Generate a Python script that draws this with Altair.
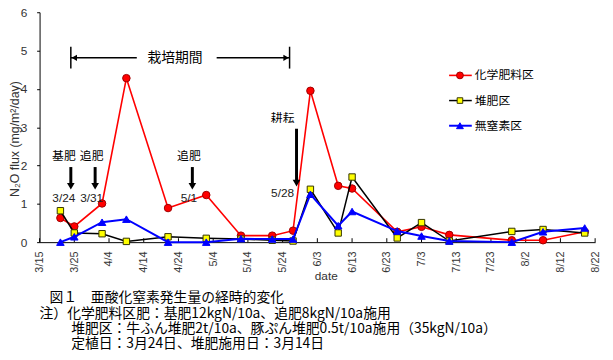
import altair as alt
import pandas as pd

# ---------------- data ----------------
dates = ["3/21", "3/25", "4/2", "4/9", "4/21", "5/2", "5/12", "5/21", "5/27",
         "6/1", "6/9", "6/13", "6/26", "7/3", "7/11", "7/29", "8/7", "8/19"]
chem = [0.63, 0.41, 1.01, 4.28, 0.89, 1.23, 0.17, 0.17, 0.30,
        3.95, 1.47, 1.40, 0.27, 0.40, 0.19, 0.05, 0.05, 0.27]
compost = [0.82, 0.24, 0.22, 0.02, 0.14, 0.10, 0.08, 0.05, 0.03,
           1.38, 0.24, 1.70, 0.11, 0.51, 0.03, 0.28, 0.33, 0.24]
nofert = [0.00, 0.14, 0.52, 0.60, 0.00, 0.00, 0.09, 0.08, 0.08,
          1.25, 0.43, 0.80, 0.29, 0.16, 0.03, 0.00, 0.27, 0.37]
series_names = ["化学肥料区", "堆肥区", "無窒素区"]

tick_labels = ["3/15", "3/25", "4/4", "4/14", "4/24", "5/4", "5/14", "5/24", "6/3",
               "6/13", "6/23", "7/3", "7/13", "7/23", "8/2", "8/12", "8/22"]
y_ticks = [0, 1, 2, 3, 4, 5, 6]

# annotations
arrow_dates = ["3/24", "3/31", "4/28", "5/28"]
arrow_top = [1.96, 1.96, 1.96, 2.96]
arrow_head = [1.46, 1.46, 1.46, 1.54]
word_text = ["基肥", "追肥", "追肥", "耕耘"]
word_dates = ["3/22", "3/30", "4/27", "5/24"]
word_y = [2.26, 2.26, 2.26, 3.24]
date_text = ["3/24", "3/31", "5/1", "5/28"]
date_y = [1.15, 1.15, 1.15, 1.28]

period_text = "栽培期間"
period_bounds = ["3/24", "5/26"]
period_heads = ["3/25", "5/25"]
period_gap = ["4/12", "5/5"]
period_text_date = "4/23"
period_y = 4.81
period_bar = [4.53, 5.10]

caption = [
    "図１　亜酸化窒素発生量の経時的変化",
    "注）化学肥料区肥：基肥12kgN/10a、追肥8kgN/10a施用",
    "堆肥区：牛ふん堆肥2t/10a、豚ぷん堆肥0.5t/10a施用（35kgN/10a）",
    "定植日：3月24日、堆肥施用日：3月14日",
]


def day(s):
    m, d = s.split("/")
    return (pd.Timestamp(2000, int(m), int(d)) - pd.Timestamp(2000, 3, 15)).days


days = [day(s) for s in dates]
tick_days = [day(s) for s in tick_labels]

W, H = 563, 233
JP = "Noto Sans CJK JP"
LAT = "Liberation Sans"

label_expr = "[" + ",".join(f"'{t}'" for t in tick_labels) + "][round(datum.value/10)]"

xscale = alt.Scale(domain=[0, 160], nice=False, zero=False)
yscale = alt.Scale(domain=[0, 6], nice=False)

xaxis = alt.Axis(values=tick_days, labelExpr=label_expr, labelAngle=270, ticks=False,
                 tickSize=0, grid=False, labelFont=LAT, labelFontSize=11,
                 labelColor="#333", labelPadding=9, title="date", titleFont=LAT,
                 titleFontSize=12, titleFontWeight="normal", titleColor="#333",
                 titleX=290, titleY=38, titleBaseline="alphabetic",
                 domainColor="black", labelFlush=False, labelOverlap=False)
yaxis = alt.Axis(values=y_ticks, tickSize=3, tickColor="black", grid=False,
                 labelFont=LAT, labelFontSize=12, labelColor="#333", labelPadding=10,
                 title="N₂O flux (mg/m²/day)", titleFont=LAT, titleFontSize=12.5,
                 titleFontWeight="normal", titleColor="#333", titleAngle=270,
                 titleX=-25, titleY=128, titleAlign="center", titleBaseline="middle",
                 domainColor="black")


def X(field="day"):
    return alt.X(f"{field}:Q", scale=xscale, axis=xaxis)


def Y(field="v"):
    return alt.Y(f"{field}:Q", scale=yscale, axis=yaxis)


layers = []

# inward x ticks
tick_df = pd.DataFrame({"day": tick_days})
layers.append(alt.Chart(tick_df).mark_rule(color="black", strokeWidth=1).encode(
    x=X(), y=alt.value(H), y2=alt.value(H - 4)))

specs = [
    (series_names[0], chem, "#ff0000", "circle", "#ff0000", "#a00000", 58, 1.6),
    (series_names[1], compost, "#000000", "square", "#ffff00", "#333300", 42, 1.5),
    (series_names[2], nofert, "#0000ff", "triangle-up", "#0000ff", "#0000ff", 58, 2.0),
]

for name, vals, col, shape, fill, stroke, size, sw in specs:
    df = pd.DataFrame({"day": days, "v": vals})
    layers.append(alt.Chart(df).mark_line(color=col, strokeWidth=sw).encode(x=X(), y=Y()))
    layers.append(alt.Chart(df).mark_point(shape=shape, filled=True, fill=fill, stroke=stroke,
                                           strokeWidth=1, size=size, opacity=1).encode(x=X(), y=Y()))

# arrows
adf = pd.DataFrame({"day": [day(s) for s in arrow_dates], "top": arrow_top, "head": arrow_head})
layers.append(alt.Chart(adf).mark_rule(color="black", strokeWidth=3).encode(
    x=X(), y=Y("top"), y2="head:Q"))
layers.append(alt.Chart(adf).mark_point(shape="triangle-down", filled=True, color="black",
                                        size=60, opacity=1).encode(x=X(), y=Y("head")))
wdf = pd.DataFrame({"day": [day(s) for s in word_dates], "y": word_y, "t": word_text,
                    "dy": date_y, "dt": date_text})
layers.append(alt.Chart(wdf).mark_text(font=JP, fontSize=12, color="black").encode(
    x=X(), y=Y("y"), text="t:N"))
layers.append(alt.Chart(wdf).mark_text(font=LAT, fontSize=12, color="#222").encode(
    x=X(), y=Y("dy"), text="dt:N"))

# cultivation period
pb = pd.DataFrame({"day": [day(s) for s in period_bounds], "lo": [period_bar[0]] * 2,
                   "hi": [period_bar[1]] * 2})
layers.append(alt.Chart(pb).mark_rule(color="black", strokeWidth=1.5).encode(
    x=X(), y=Y("lo"), y2="hi:Q"))
seg = pd.DataFrame({"a": [day(period_bounds[0]), day(period_gap[1])],
                    "b": [day(period_gap[0]), day(period_bounds[1])],
                    "y": [period_y] * 2})
layers.append(alt.Chart(seg).mark_rule(color="black", strokeWidth=1.5).encode(
    x=X("a"), x2="b:Q", y=Y("y")))
heads = pd.DataFrame({"day": [day(s) for s in period_heads], "y": [period_y] * 2,
                      "s": ["triangle-left", "triangle-right"]})
layers.append(alt.Chart(heads).mark_point(filled=True, color="black", size=40, opacity=1).encode(
    x=X(), y=Y("y"),
    shape=alt.Shape("s:N", scale=alt.Scale(domain=["triangle-left", "triangle-right"],
                                           range=["triangle-left", "triangle-right"]),
                    legend=None)))
ptxt = pd.DataFrame({"day": [day(period_text_date)], "y": [period_y], "t": [period_text]})
layers.append(alt.Chart(ptxt).mark_text(font=JP, fontSize=14, color="black").encode(
    x=X(), y=Y("y"), text="t:N"))

# manual legend
for i, (name, vals, col, shape, fill, stroke, size, sw) in enumerate(specs):
    ly = 64 + 25.5 * i
    ldf = pd.DataFrame({"t": [name]})
    layers.append(alt.Chart(ldf).mark_rule(color=col, strokeWidth=sw).encode(
        x=alt.value(415), x2=alt.value(438), y=alt.value(ly)))
    layers.append(alt.Chart(ldf).mark_point(shape=shape, filled=True, fill=fill, stroke=stroke,
                                            strokeWidth=1, size=size - 10, opacity=1).encode(
        x=alt.value(426), y=alt.value(ly)))
    layers.append(alt.Chart(ldf).mark_text(font=JP, fontSize=12, color="black", align="left",
                                           baseline="middle").encode(
        x=alt.value(441), y=alt.value(ly), text="t:N"))

# caption
cap_x = [10, 0, 32, 32]
cap_y = [290, 305.5, 321, 336.5]
for txt, cx, cy in zip(caption, cap_x, cap_y):
    cdf = pd.DataFrame({"t": [txt]})
    layers.append(alt.Chart(cdf).mark_text(font=JP, fontSize=14, color="black", align="left",
                                           baseline="middle").encode(
        x=alt.value(cx), y=alt.value(cy), text="t:N"))

chart = alt.layer(*layers).properties(
    width=W, height=H,
    autosize=alt.AutoSizeParams(type="none"),
    padding={"left": 32, "top": 2, "right": 10, "bottom": 108},
    background="white",
).configure_view(stroke=None)

chart.save("out.html", embed_options={"renderer": "svg", "actions": False})
